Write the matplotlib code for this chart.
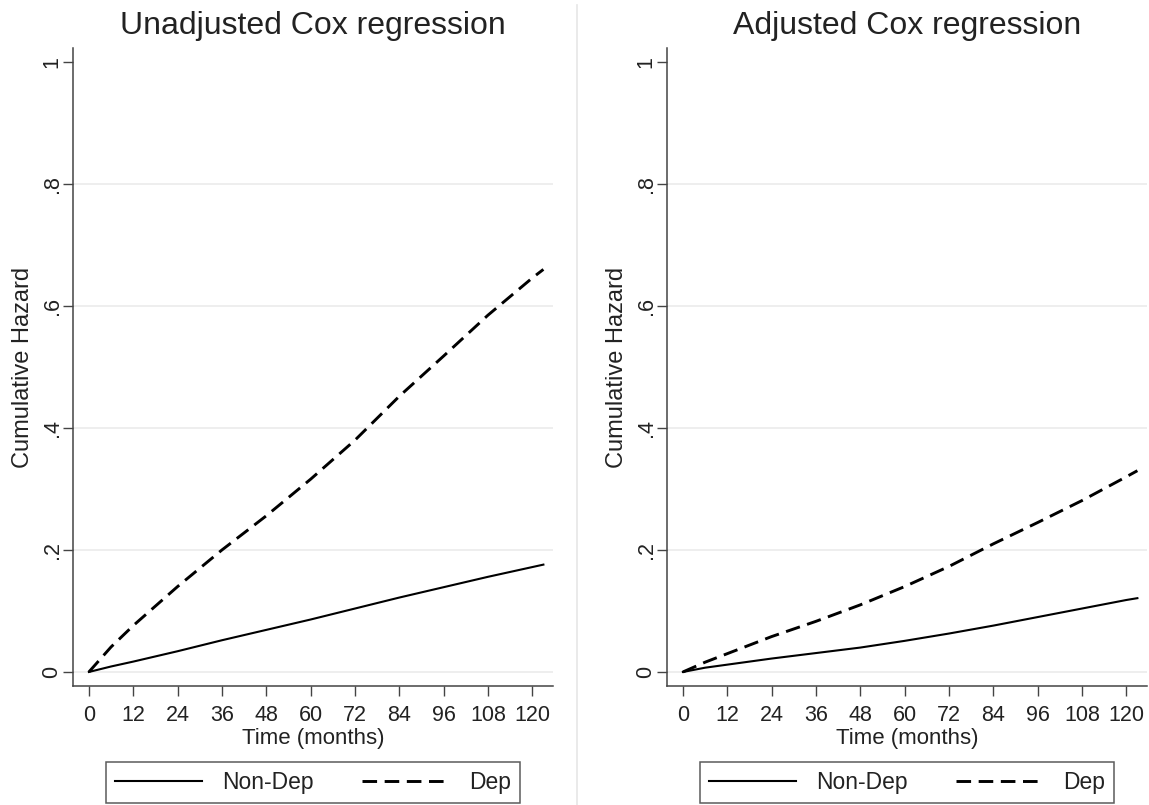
import numpy as np
import matplotlib
matplotlib.use("Agg")
import matplotlib.pyplot as plt
from matplotlib.lines import Line2D

plt.rcParams['font.family'] = ['Liberation Sans', 'DejaVu Sans']

# time points (months)
months = [0, 6, 12, 24, 36, 48, 60, 72, 84, 96, 108, 120, 123]

# unadjusted Cox regression
unadj_nondep = [0, 0.009, 0.017, 0.034, 0.052, 0.069, 0.086, 0.104, 0.122, 0.139, 0.156, 0.172, 0.176]
unadj_dep = [0, 0.041, 0.076, 0.140, 0.200, 0.256, 0.316, 0.380, 0.452, 0.518, 0.585, 0.646, 0.660]

# adjusted Cox regression
adj_nondep = [0, 0.007, 0.012, 0.022, 0.031, 0.040, 0.051, 0.063, 0.076, 0.090, 0.104, 0.118, 0.121]
adj_dep = [0, 0.016, 0.030, 0.058, 0.083, 0.110, 0.140, 0.173, 0.210, 0.245, 0.281, 0.320, 0.330]

titles = ['Unadjusted Cox regression', 'Adjusted Cox regression']
xticks = list(range(0, 121, 12))
yticks = [0, 0.2, 0.4, 0.6, 0.8, 1.0]
ylabels = ['0', '.2', '.4', '.6', '.8', '1']

W, H = 1149, 805
fig = plt.figure(figsize=(W / 100, H / 100), dpi=100)

panels = [(unadj_nondep, unadj_dep), (adj_nondep, adj_dep)]
lefts = [73, 667]
ink = '#222222'

for i, (nondep, dep) in enumerate(panels):
    x0 = lefts[i] / W
    ax = fig.add_axes([x0, 1 - 686 / H, 480 / W, (686 - 48) / H])
    for yv in yticks[:-1]:
        ax.axhline(yv, color='#ebebeb', lw=1.2, zorder=0)
    l1, = ax.plot(months, nondep, color='black', lw=1.5, label='Non-Dep')
    l2, = ax.plot(months, dep, color='black', lw=2.1, dashes=(5, 2.6), label='Dep')
    ax.set_xlim(-4.3, 125.6)
    ax.set_ylim(-0.023, 1.023)
    ax.set_xticks(xticks)
    ax.set_yticks(yticks)
    ax.set_yticklabels(ylabels, rotation=90, va='center')
    ax.tick_params(axis='both', direction='out', length=7, width=1, color='#444444',
                   labelsize=15.5, labelcolor=ink)
    ax.tick_params(axis='x', pad=6.5)
    ax.tick_params(axis='y', pad=0.5)
    for s in ['top', 'right']:
        ax.spines[s].set_visible(False)
    for s in ['left', 'bottom']:
        ax.spines[s].set_color('#444444')
        ax.spines[s].set_linewidth(1.1)
    ax.set_xlabel('Time (months)', fontsize=16, color=ink, labelpad=1.5)
    ax.set_ylabel('Cumulative Hazard', fontsize=17, color=ink, labelpad=5.5)
    ax.set_title(titles[i], fontsize=23, color=ink, pad=10)

    cx = (lefts[i] + 240) / W
    leg = ax.legend(handles=[l1, l2], loc='center', bbox_to_anchor=(cx, 1 - 782.5 / H),
                    bbox_transform=fig.transFigure, ncol=2, fontsize=16.5,
                    frameon=True, fancybox=False, handlelength=3.8, handletextpad=0.87,
                    columnspacing=2.1, borderpad=0.4, borderaxespad=0)
    leg.get_frame().set_edgecolor('#333333')
    leg.get_frame().set_linewidth(1.1)
    for t in leg.get_texts():
        t.set_color(ink)

fig.add_artist(Line2D([577 / W, 577 / W], [0, 1 - 5 / H], transform=fig.transFigure,
                      color='#e6e6e6', lw=1.2))

fig.savefig('out.png', dpi=100, facecolor='white')
